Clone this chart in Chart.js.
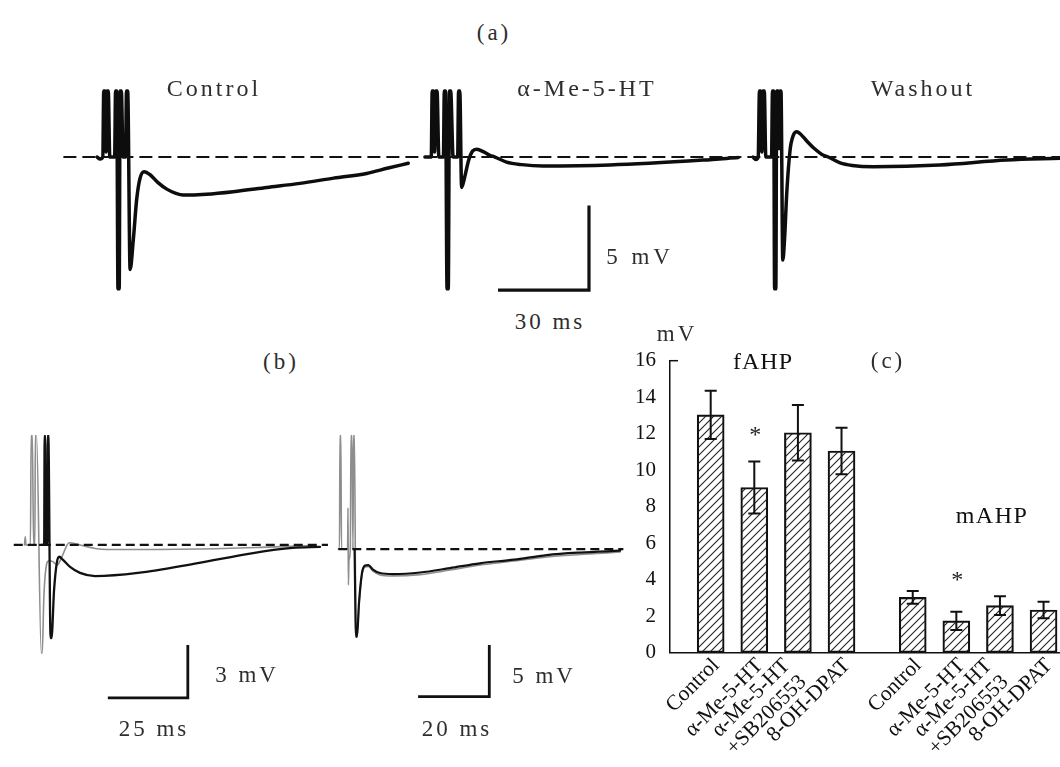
<!DOCTYPE html>
<html><head><meta charset="utf-8">
<script src="https://cdn.jsdelivr.net/npm/chart.js@4.4.1/dist/chart.umd.min.js"></script>
<style>
html,body{margin:0;padding:0;background:#fff;}
body{width:1060px;height:767px;position:relative;overflow:hidden;font-family:"Liberation Serif","DejaVu Serif",serif;}
canvas{position:absolute;}
.t{position:absolute;transform:translate(-50%,-50%);white-space:nowrap;color:#2e2e2e;font-size:23px;line-height:1;letter-spacing:3px;}
.k{color:#111;letter-spacing:1px;font-size:24px;}
</style></head><body>
<canvas id="ca" width="1060" height="240" style="left:0;top:60px"></canvas>
<canvas id="cbl" width="335" height="332" style="left:0;top:435px"></canvas>
<canvas id="cbr" width="290" height="332" style="left:335px;top:435px"></canvas>
<canvas id="cc" width="460" height="437" style="left:600px;top:330px"></canvas>

<div class="t" style="left:494px;top:32px">(a)</div>
<div class="t" style="left:214px;top:88px;font-size:24px">Control</div>
<div class="t" style="left:587px;top:88px;font-size:24px">α-Me-5-HT</div>
<div class="t" style="left:923px;top:88px;font-size:24px">Washout</div>
<div class="t" style="left:640px;top:256px;letter-spacing:4px">5 mV</div>
<div class="t" style="left:550px;top:321px">30 ms</div>
<div class="t" style="left:281px;top:361px">(b)</div>
<div class="t" style="left:247px;top:674px">3 mV</div>
<div class="t" style="left:154px;top:728px">25 ms</div>
<div class="t" style="left:544px;top:675px">5 mV</div>
<div class="t" style="left:457px;top:728px">20 ms</div>
<div class="t" style="left:677px;top:333px">mV</div>
<div class="t k" style="left:763px;top:361px">fAHP</div>
<div class="t" style="left:888px;top:360px">(c)</div>
<div class="t k" style="left:992px;top:515px;letter-spacing:1.5px">mAHP</div>

<script>
// ---------- DATA (time in ms, voltage in mV relative to rest) ----------
// (a) traces
const ctrlTrace = [[32.0,0],[33.0,-0.12],[33.9,0],[34.2,3.9],[34.6,3.9],[35.0,0.3],[35.3,3.9],[35.7,3.9],[36.2,0],[37.8,0],[38.1,3.9],[38.5,3.9],[38.9,-7.8],[39.3,-7.8],[39.6,3.9],[40.0,3.9],[40.6,0],[41.4,0],[41.7,3.9],[42.1,3.9],[42.9,-6.65],[43.95,-4.9],[45.07,-2.5],[46.16,-1.26],[47.5,-0.87],[49.5,-1.05],[52,-1.5],[55,-1.9],[58,-2.15],[60.4,-2.25],[68,-2.2],[76.9,-2.05],[88,-1.8],[98.9,-1.56],[110,-1.25],[120.9,-0.97],[128,-0.65],[134.6,-0.37]];
const agonistTrace = [[140.1,0],[142.2,0],[142.5,3.9],[142.9,3.9],[143.3,0.3],[143.7,3.9],[144.1,3.9],[144.7,0],[146.2,0],[146.5,3.9],[146.9,3.9],[147.4,-7.8],[147.8,-7.8],[148.2,3.9],[148.6,3.9],[149.4,0],[150.9,0],[151.2,3.9],[151.6,3.9],[152.2,-1.8],[153.2,-1.2],[154.5,-0.2],[155.8,0.35],[157.2,0.46],[159.5,0.3],[161.5,0.1],[163.2,0],[167,-0.3],[172,-0.45],[179,-0.53],[201.1,-0.47],[231.8,-0.18],[243.4,-0.03]];
const washoutTrace = [[248.3,0],[249.2,-0.15],[250.0,0],[250.4,3.9],[250.8,3.9],[251.2,0.3],[251.6,3.9],[252.0,3.9],[252.5,0],[254.4,0],[254.7,3.9],[255.1,3.9],[255.4,-7.8],[255.8,-7.8],[256.1,3.9],[256.5,3.9],[256.9,0.5],[257.2,3.9],[257.5,3.9],[258.1,-6.1],[258.7,-4.8],[259.4,-2.15],[260.5,0.41],[261.6,1.3],[262.7,1.5],[264,1.35],[266,0.95],[268.5,0.5],[271,0.15],[273.1,0],[277,-0.35],[281,-0.5],[287.9,-0.57],[309.9,-0.47],[331.9,-0.18],[349.5,-0.08]];
const baselineA = [20.9, 349.5];
const scaleA = {ms:30, mV:5};

// (b) left: control (black) vs α-Me-5-HT (grey)
const bLeftGrey = [[7.66,0],[7.9,0.46],[8.1,0],[9.5,0],[9.75,6.3],[10.1,6.3],[10.5,0],[10.9,0],[11.05,6.3],[11.4,6.3],[12.9,-6.15],[13.2,-6.15],[13.7,-3.0],[14.3,-1.4],[15.3,-0.9],[16.5,-0.95],[17.9,-1.14],[19.5,-0.6],[21.6,0.13],[25,0],[29.7,-0.2],[33.4,-0.26],[61.8,-0.23],[81.3,-0.14],[98.75,-0.03]];
const bLeftBlack = [[12.5,0],[13.8,0],[13.95,6.3],[14.1,6.3],[14.3,0],[14.8,0],[14.95,6.3],[15.1,6.3],[15.8,-5.3],[16.1,-5.3],[16.9,-2.56],[17.8,-0.97],[18.5,-0.67],[19.7,-0.85],[21.9,-1.25],[25,-1.59],[29.7,-1.77],[43.1,-1.59],[61.8,-1.03],[79.1,-0.46],[91.4,-0.17],[100,-0.11]];
const baselineBL = [4.3, 102.5];
const scaleBL = {ms:25, mV:3};

// (b) right
const bRightGrey = [[0.93,0],[1.26,0],[1.4,11.1],[1.63,11.1],[1.83,0],[3.54,0],[3.65,3.97],[3.76,-3.48],[3.93,-1.06],[4.3,0],[4.5,11.1],[4.75,11.1],[5.05,0],[5.2,11.1],[5.45,11.1],[5.9,-8.51],[6.18,-8.51],[6.74,-5.42],[7.58,-2.51],[8.43,-1.74],[9.35,-1.69],[10.67,-2.13],[12.64,-2.51],[16.3,-2.61],[23.9,-2.47],[32.3,-2.03],[40.7,-1.55],[50.3,-1.16],[59.5,-0.77],[68.8,-0.53],[80.1,-0.29]];
const bRightBlack = [[5.5,0],[5.9,-8.48],[6.18,-8.48],[6.74,-5.22],[7.58,-2.32],[8.43,-1.6],[9.35,-1.55],[10.67,-1.98],[12.64,-2.32],[16.3,-2.42],[23.9,-2.27],[32.3,-1.84],[40.7,-1.38],[50.3,-1.02],[59.5,-0.58],[68.8,-0.34],[80.1,-0.16]];
const baselineBR = [0.93, 81.0];
const scaleBR = {ms:20, mV:5};

// (c) bar chart
const categories = ['Control','α-Me-5-HT',['α-Me-5-HT','+SB206553'],'8-OH-DPAT'];
const fAHP = [13.03, 9.05, 12.05, 11.05];
const fAHPerr = [1.32, 1.42, 1.52, 1.27];
const mAHP = [3.03, 1.74, 2.58, 2.34];
const mAHPerr = [0.35, 0.5, 0.51, 0.45];
const fStar = [null, 11.9, null, null];   // '*' marks (mV level)
const mStar = [null, 3.95, null, null];
const yTicksC = [0,2,4,6,8,10,12,14,16];

// ---------- HELPERS ----------
Chart.defaults.font.family = '"Liberation Serif", "DejaVu Serif", serif';
const toXY = arr => arr.map(p => ({x:p[0], y:p[1]}));
function traceDS(arr, color, width, order){
  return {data: toXY(arr), borderColor: color, borderWidth: width, pointRadius: 0,
    cubicInterpolationMode: 'monotone', fill: false, order: order,
    borderJoinStyle: 'round', borderCapStyle: 'round'};
}
function dashDS(range, width, dash){
  return {data: [{x:range[0], y:0},{x:range[1], y:0}], borderColor:'#111', borderWidth: width,
    borderDash: dash, pointRadius: 0, fill:false, order: 0};
}
function barDS(corner, bar, width){
  return {data: [{x:corner[0]-bar.ms, y:corner[1]},{x:corner[0], y:corner[1]},{x:corner[0], y:corner[1]+bar.mV}],
    borderColor:'#111', borderWidth: width, pointRadius: 0, fill:false, tension:0,
    borderJoinStyle:'miter', borderCapStyle:'butt', order: 0};
}
function traceChart(id, xr, yr, datasets){
  return new Chart(document.getElementById(id), {
    type: 'line',
    data: {datasets},
    options: {
      responsive: false, animation: false, devicePixelRatio: 1,
      layout: {padding: 0},
      plugins: {legend: {display:false}, tooltip: {enabled:false}},
      scales: {
        x: {type:'linear', display:false, min:xr[0], max:xr[1]},
        y: {type:'linear', display:false, min:yr[0], max:yr[1]}
      }
    }
  });
}

// (a): 3.033 px/ms, 16.9 px/mV
traceChart('ca', [0, 349.5], [-8.46, 5.74], [
  dashDS(baselineA, 2, [13, 6]),
  traceDS(ctrlTrace, '#0d0d0d', 3.5, 1),
  traceDS(agonistTrace, '#0d0d0d', 3.5, 1),
  traceDS(washoutTrace, '#0d0d0d', 3.5, 1),
  barDS([194.2, -7.87], scaleA, 3.2)
]);

// (b) left: 3.2 px/ms, 17.57 px/mV
traceChart('cbl', [0, 104.7], [-12.64, 6.26], [
  dashDS(baselineBL, 2.2, [9, 5]),
  traceDS(bLeftBlack, '#111', 2.3, 1),
  traceDS(bLeftGrey, '#8e8e8e', 1.6, 2),
  barDS([58.7, -8.70], scaleBL, 2.8)
]);

// (b) right: 3.56 px/ms, 10.34 px/mV
traceChart('cbr', [0, 81.46], [-21.08, 11.03], [
  dashDS(baselineBR, 2.2, [9, 5]),
  traceDS(bRightBlack, '#111', 2.2, 1),
  traceDS(bRightGrey, '#8e8e8e', 1.6, 2),
  barDS([43.34, -14.28], scaleBR, 2.8)
]);

// (c) bar chart
const GROUP_OFFSET = 4.633;
const positions = [...fAHP.map((_, i) => i), ...mAHP.map((_, i) => GROUP_OFFSET + i)];
const allVals = [...fAHP, ...mAHP];
const allErr = [...fAHPerr, ...mAHPerr];
const allStar = [...fStar, ...mStar];
const allLabels = [...categories, ...categories];

const hatch = (() => {
  const c = document.createElement('canvas'); c.width = 8; c.height = 8;
  const g = c.getContext('2d');
  g.strokeStyle = '#222'; g.lineWidth = 1.1; g.beginPath();
  g.moveTo(0, 8); g.lineTo(8, 0);
  g.moveTo(-2, 2); g.lineTo(2, -2);
  g.moveTo(6, 10); g.lineTo(10, 6);
  g.stroke();
  return g.createPattern(c, 'repeat');
})();

const decorPlugin = {
  id: 'decor',
  afterDatasetsDraw(chart) {
    const ctx = chart.ctx, ys = chart.scales.y, xs = chart.scales.x;
    const meta = chart.getDatasetMeta(0);
    ctx.save();
    // error bars and significance marks
    ctx.strokeStyle = '#111'; ctx.lineWidth = 2;
    ctx.fillStyle = '#222';
    ctx.font = '24px "Liberation Serif", serif';
    ctx.textAlign = 'center'; ctx.textBaseline = 'middle';
    meta.data.forEach((bar, i) => {
      const x = bar.x, v = allVals[i], e = allErr[i];
      const yt = ys.getPixelForValue(v + e), yb = ys.getPixelForValue(v - e);
      ctx.beginPath();
      ctx.moveTo(x, yt); ctx.lineTo(x, yb);
      ctx.moveTo(x - 6, yt); ctx.lineTo(x + 6, yt);
      ctx.moveTo(x - 6, yb); ctx.lineTo(x + 6, yb);
      ctx.stroke();
      if (allStar[i] != null) ctx.fillText('*', x + 1, ys.getPixelForValue(allStar[i]));
    });
    // small inward tick at the top of the y axis
    const yTop = ys.getPixelForValue(16);
    ctx.lineWidth = 1.5;
    ctx.beginPath(); ctx.moveTo(chart.chartArea.left, yTop); ctx.lineTo(chart.chartArea.left + 8, yTop); ctx.stroke();
    // rotated category labels
    ctx.fillStyle = '#111';
    ctx.font = '21.5px "Liberation Serif", serif';
    ctx.textAlign = 'right'; ctx.textBaseline = 'middle';
    const lh = 24, mlh = 23, y0 = xs.top + 1;
    positions.forEach((p, i) => {
      const multi = Array.isArray(allLabels[i]);
      const lines = multi ? allLabels[i] : [allLabels[i]];
      const px = xs.getPixelForValue(p);
      ctx.save();
      ctx.translate(px - 3, y0);
      ctx.rotate(-Math.PI / 4);
      lines.forEach((ln, j) => {
        if (multi) ctx.fillText(ln, -12, lh / 2 + (j - (lines.length - 1) / 2) * mlh);
        else ctx.fillText(ln, 0, lh / 2);
      });
      ctx.restore();
    });
    ctx.restore();
  }
};

new Chart(document.getElementById('cc'), {
  type: 'bar',
  data: {datasets: [{
    data: positions.map((p, i) => ({x: p, y: allVals[i]})),
    backgroundColor: hatch, borderColor: '#111', borderWidth: 1.5,
    borderSkipped: false, barThickness: 27
  }]},
  options: {
    responsive: false, animation: false, devicePixelRatio: 1,
    layout: {padding: {top: 30.7, right: 0, left: 0, bottom: 0}},
    plugins: {legend: {display:false}, tooltip: {enabled:false}},
    scales: {
      x: {
        type: 'linear', min: -0.933, max: 8.01, offset: false,
        afterBuildTicks: s => { s.ticks = positions.map(v => ({value: v})); },
        afterFit: s => { s.height = 114.3; },
        ticks: {display: false},
        grid: {display: false, drawTicks: false},
        border: {display: true, color: '#111', width: 1.5}
      },
      y: {
        type: 'linear', min: 0, max: 16,
        afterBuildTicks: s => { s.ticks = yTicksC.map(v => ({value: v})); },
        afterFit: s => { s.width = 70; },
        ticks: {color: '#111', font: {size: 21}, padding: 14},
        grid: {display: false, drawTicks: false},
        border: {display: true, color: '#111', width: 1.5}
      }
    }
  },
  plugins: [decorPlugin]
});
</script>
</body></html>
